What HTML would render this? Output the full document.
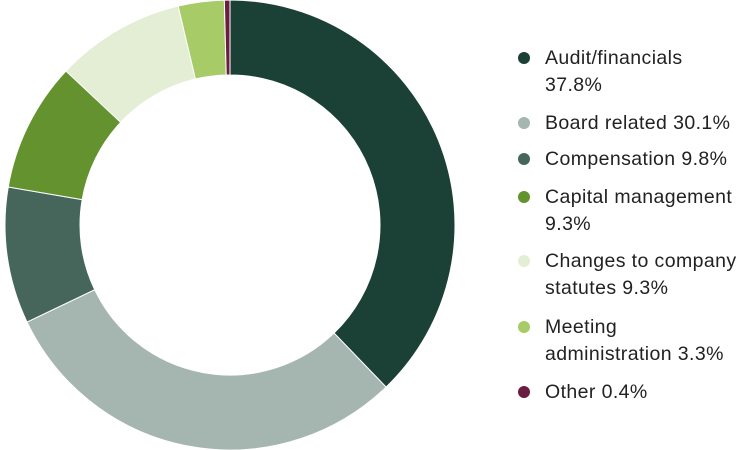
<!DOCTYPE html>
<html><head><meta charset="utf-8"><style>
body{margin:0;background:#fff;width:750px;height:450px;overflow:hidden;font-family:"Liberation Sans",sans-serif;}
.lg{position:absolute;left:545px;font-size:19.5px;letter-spacing:0.4px;color:#222;line-height:27px;white-space:nowrap;}
.dot{position:absolute;left:518px;width:12px;height:12px;border-radius:50%;}
</style></head><body>
<svg id="s" width="750" height="450" style="position:absolute;left:0;top:0"></svg>
<div class="dot" style="top:52px;background:#1b4035"></div>
<div class="lg" style="top:45px">Audit/financials<br>37.8%</div>
<div class="dot" style="top:117px;background:#a5b5af"></div>
<div class="lg" style="top:110px">Board related 30.1%</div>
<div class="dot" style="top:153px;background:#46665c"></div>
<div class="lg" style="top:146px">Compensation 9.8%</div>
<div class="dot" style="top:191px;background:#64922f"></div>
<div class="lg" style="top:184px">Capital management<br>9.3%</div>
<div class="dot" style="top:255px;background:#e3eed4"></div>
<div class="lg" style="top:248px">Changes to company<br>statutes 9.3%</div>
<div class="dot" style="top:321px;background:#a6cb67"></div>
<div class="lg" style="top:314px">Meeting<br>administration 3.3%</div>
<div class="dot" style="top:386px;background:#6b1c41"></div>
<div class="lg" style="top:379px">Other 0.4%</div>
<script>
var d=[[37.8,"#1b4035"],[30.1,"#a5b5af"],[9.8,"#46665c"],[9.3,"#64922f"],[9.3,"#e3eed4"],[3.3,"#a6cb67"],[0.4,"#6b1c41"]];
var cx=230,cy=225,R=225,r=150,a=0,h="";
function p(rad,ang){return [cx+rad*Math.sin(ang),cy-rad*Math.cos(ang)];}
d.forEach(function(x){var a2=a+x[0]/100*2*Math.PI,l=(a2-a)>Math.PI?1:0;
var p1=p(R,a),p2=p(R,a2),p3=p(r,a2),p4=p(r,a);
h+='<path d="M'+p1+' A'+R+','+R+' 0 '+l+' 1 '+p2+' L'+p3+' A'+r+','+r+' 0 '+l+' 0 '+p4+' Z" fill="'+x[1]+'" stroke="#fff" stroke-width="1"/>';a=a2;});
document.getElementById("s").innerHTML=h;
</script>
</body></html>
